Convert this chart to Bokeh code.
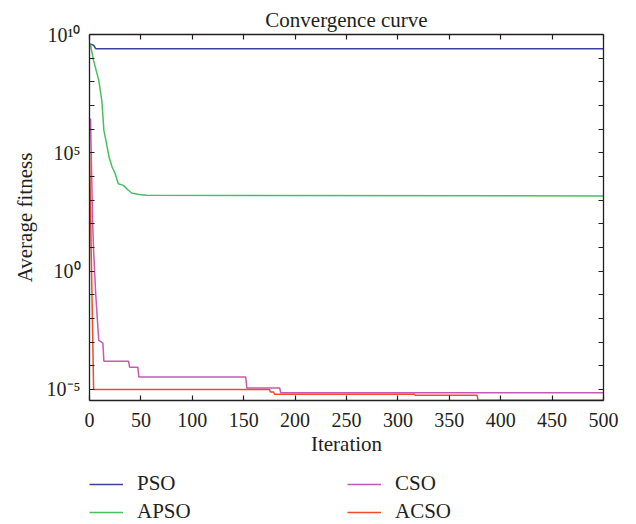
from bokeh.plotting import figure
from bokeh.layouts import column
from bokeh.models import (FixedTicker, LinearAxis, LogAxis, Legend, LegendItem,
                          CustomJSTickFormatter, Range1d)
from bokeh.embed import file_html
from bokeh.resources import INLINE

# ---------------- data ----------------
x_ticks = [0, 50, 100, 150, 200, 250, 300, 350, 400, 450, 500]
y_ticks = [1e-5, 1e-4, 1e-3, 1e-2, 1e-1, 1e0, 1e1, 1e2, 1e3, 1e4, 1e5, 1e6, 1e7, 1e8, 1e9, 1e10]
y_tick_labels = {1e10: "10\u00b9\u2070", 1e5: "10\u2075", 1e0: "10\u2070", 1e-5: "10\u207b\u2075"}

pso_iter = [0, 2, 4, 6, 500]
pso_fit = [3.98e9, 3.8e9, 3.55e9, 2.5e9, 2.5e9]

apso_iter = [0, 1, 4, 9, 12, 14, 16, 19, 22, 25, 28, 33, 37, 41, 48, 56, 500]
apso_fit = [4.0e9, 3.5e9, 7.9e8, 1.15e8, 1.6e7, 8.7e5, 3.3e5, 6.6e4, 2.5e4, 1.3e4,
            4.9e3, 4.2e3, 2.8e3, 2.0e3, 1.74e3, 1.6e3, 1.5e3]

cso_iter = [1, 3, 4, 6, 9, 13, 14, 38, 39, 47, 48, 152, 153, 185, 186, 500]
cso_fit = [2.8e6, 126.0, 7.4, 0.115, 1.17e-3, 9.3e-4, 1.55e-4, 1.55e-4, 8.7e-5, 8.7e-5,
           3.3e-5, 3.3e-5, 1.15e-5, 1.15e-5, 7.2e-6, 7.2e-6]

acso_iter = [0, 4, 175, 176, 179, 180, 316, 317, 377, 378, 500]
acso_fit = [1e5, 1e-5, 1e-5, 7.8e-6, 7.8e-6, 6.2e-6, 6.2e-6, 5.6e-6, 5.6e-6, 3.5e-6, 3.5e-6]

series_names = ["PSO", "APSO", "CSO", "ACSO"]
series_colors = ["#3f3f9f", "#48c060", "#c858b4", "#f24a2a"]

# ---------------- main figure ----------------
FONT = "Liberation Serif"
TXT = "#231f20"

p = figure(width=636, height=464, y_axis_type="log",
           x_range=(0, 500), y_range=(3.39e-6, 1e10),
           output_backend="svg", toolbar_location=None,
           title="Convergence curve",
           min_border_left=89, min_border_right=33, min_border_top=34, min_border_bottom=64)
p.title.text_font = FONT
p.title.text_font_size = "21px"
p.title.text_font_style = "normal"
p.title.text_color = TXT
p.title.align = "center"
p.title.standoff = 5
p.xgrid.visible = False
p.ygrid.visible = False
p.outline_line_color = None
p.background_fill_color = "white"
p.border_fill_color = "white"

blank = CustomJSTickFormatter(code="return ''")

def style_axis(ax):
    ax.axis_line_color = TXT
    ax.axis_line_width = 1.3
    ax.major_tick_line_color = TXT
    ax.major_tick_line_width = 1.2
    ax.major_tick_in = 5
    ax.major_tick_out = 0
    ax.minor_tick_in = 0
    ax.minor_tick_out = 0
    ax.major_label_text_font = FONT
    ax.major_label_text_font_size = "20px"
    ax.major_label_text_color = TXT
    ax.axis_label_text_font = FONT
    ax.axis_label_text_font_size = "21px"
    ax.axis_label_text_font_style = "normal"
    ax.axis_label_text_color = TXT

xa = p.xaxis[0]
xa.ticker = FixedTicker(ticks=x_ticks)
style_axis(xa)
xa.axis_label = "Iteration"
xa.major_label_standoff = 12
xa.axis_label_standoff = 2

ya = p.yaxis[0]
ya.ticker = FixedTicker(ticks=y_ticks)
style_axis(ya)
ya.major_label_overrides = {t: y_tick_labels.get(t, "") for t in y_ticks}
ya.axis_label = "Average fitness"
ya.major_label_standoff = 9
ya.axis_label_standoff = 7

top = LinearAxis(ticker=FixedTicker(ticks=x_ticks), formatter=blank)
style_axis(top)
top.major_label_standoff = 0
top.major_label_text_font_size = "0px"
p.add_layout(top, "above")

right = LogAxis(ticker=FixedTicker(ticks=y_ticks), formatter=blank)
style_axis(right)
right.major_label_standoff = 0
right.major_label_text_font_size = "0px"
p.add_layout(right, "right")

data = [(pso_iter, pso_fit), (apso_iter, apso_fit), (cso_iter, cso_fit), (acso_iter, acso_fit)]
for (xs, ys), c in zip(data, series_colors):
    p.line(xs, ys, line_color=c, line_width=1.5)

# ---------------- legend strip below (its frame aligns with the main frame) ----------------
q = figure(width=636, height=60, x_range=Range1d(-20, -10), y_range=Range1d(-20, -10),
           x_axis_location=None, y_axis_location=None,
           output_backend="svg", toolbar_location=None, min_border=0)
q.outline_line_color = None
q.xgrid.visible = False
q.ygrid.visible = False
q.background_fill_color = "white"
q.border_fill_color = "white"

# same series, kept outside this strip's view: they only feed the legend swatches
legend_renderers = [q.line(xs, ys, line_color=c, line_width=1.5)
                    for (xs, ys), c in zip(data, series_colors)]

def make_legend(idx, loc):
    items = [LegendItem(label=series_names[i], renderers=[legend_renderers[i]]) for i in idx]
    lg = Legend(items=items, location=loc, orientation="vertical",
                glyph_width=34, glyph_height=20, label_height=20, label_standoff=14,
                spacing=3, padding=0, margin=0, border_line_color=None,
                background_fill_alpha=0, label_text_font=FONT,
                label_text_font_size="21px", label_text_color=TXT)
    q.add_layout(lg, "center")

make_legend([0, 1], (0, 0))
make_legend([2, 3], (258, 0))

layout = column(p, q, spacing=0)
open("out.html", "w").write(file_html(layout, INLINE))
